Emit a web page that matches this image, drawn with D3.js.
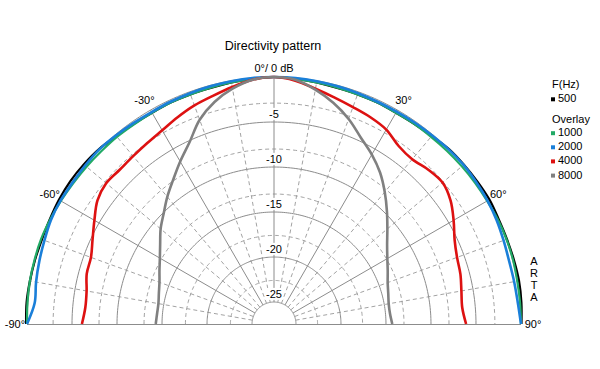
<!DOCTYPE html>
<html>
<head>
<meta charset="utf-8">
<script src="https://cdn.jsdelivr.net/npm/d3@7"></script>
<style>
  html, body { margin: 0; padding: 0; background: #fff; }
  svg { display: block; font-family: Arial, "Liberation Sans", sans-serif; }
</style>
</head>
<body>
<svg id="chart" width="600" height="369"></svg>
<script>
// ---------------- data ----------------
const angles = [-90,-85,-80,-75,-70,-65,-60,-55,-50,-45,-40,-35,-30,-25,-20,-15,-10,-5,0,
                5,10,15,20,25,30,35,40,45,50,55,60,65,70,75,80,85,90];

const f500  = [0.1,0.15,0.1,0.05,0.0,0.05,0.15,0.2,0.15,0.05,-0.2,-0.3,-0.35,-0.3,-0.3,-0.3,-0.2,-0.1,0,
               -0.1,-0.2,-0.3,-0.3,-0.3,-0.35,-0.3,-0.2,0.05,0.1,0.15,0.2,0.1,0.1,0.15,0.2,0.15,0.05];
const f1000 = [0.0,0.05,0.1,0.1,0.1,0.0,-0.1,-0.2,-0.25,-0.3,-0.3,-0.35,-0.35,-0.3,-0.3,-0.25,-0.2,-0.1,0,
               -0.1,-0.2,-0.25,-0.3,-0.3,-0.35,-0.3,-0.3,-0.25,-0.2,-0.15,-0.1,0.0,0.05,0.05,0.0,0.0,0.0];
const f2000 = [0.0,-0.75,-0.6,-0.45,-0.3,-0.1,-0.05,-0.1,-0.05,0.0,-0.1,-0.2,-0.25,-0.2,-0.15,-0.1,-0.05,0.0,0,
               0.0,-0.05,-0.1,-0.15,-0.2,-0.2,-0.15,-0.1,0.0,0.05,0.0,-0.05,-0.15,-0.3,-0.4,-0.35,-0.25,0.0];
const f4000 = [-6.1,-6.4,-6.3,-5.9,-5.8,-5.2,-4.4,-3.5,-3.1,-3.2,-3.1,-2.9,-2.6,-2.1,-1.6,-1.2,-0.7,-0.2,0,
               -0.3,-0.9,-1.4,-1.8,-2.1,-2.5,-3.3,-3.55,-3.2,-3.0,-3.5,-4.4,-5.3,-5.8,-6.0,-6.3,-6.45,-6.1];
const f8000 = [-14.3,-14.4,-14.4,-14.2,-13.9,-13.4,-12.8,-12.0,-11.0,-10.1,-9.0,-7.9,-6.6,-5.2,-3.3,-1.9,-0.9,-0.2,0,
               -0.2,-1.0,-2.0,-3.2,-4.6,-5.7,-6.9,-8.3,-9.7,-11.0,-12.1,-12.9,-13.5,-14.0,-14.3,-14.5,-14.5,-14.3];

const seriesNames  = ["500","1000","2000","4000","8000"];
const seriesValues = [f500, f1000, f2000, f4000, f8000];
const seriesColors = ["#000000","#22aa66","#1a7fd9","#dd1111","#808080"];

const ringMajor   = [0,-5,-10,-15,-20,-25];
const ringLabels  = ["-5","-10","-15","-20","-25"];
const ringMinor   = [-2.9,-8.0,-13.0,-17.6,-22.6];
const spokeMajor  = [-60,-30,0,30,60];
const spokeMinor  = [-80,-70,-50,-40,-20,-10,10,20,40,50,70,80];
const angleLabels = [[-90,"-90°"],[-60,"-60°"],[-30,"-30°"],[0,"0°/ 0 dB"],[30,"30°"],[60,"60°"],[90,"90°"]];

// ---------------- layout ----------------
const svg = d3.select("#chart");
const cx = 274, cy = 324;
const r = d3.scaleLinear().domain([-27.44, 0]).range([0, 247]);
const rad = d => d * Math.PI / 180;
const g = svg.append("g").attr("transform", `translate(${cx},${cy})`);

const arcPath = rr => {
  const pts = d3.range(-90, 90.01, 1).map(a => [rad(a), rr]);
  return d3.lineRadial()(pts);
};

// minor rings (dashed)
g.selectAll(".minring").data(ringMinor).join("path")
  .attr("d", d => arcPath(r(d)))
  .attr("fill", "none").attr("stroke", "#a3a3a3").attr("stroke-width", 1)
  .attr("stroke-dasharray", "4,3");
// minor spokes (dashed)
g.selectAll(".minspoke").data(spokeMinor).join("line")
  .attr("x1", d => r(-25) * Math.sin(rad(d))).attr("y1", d => -r(-25) * Math.cos(rad(d)))
  .attr("x2", d => r(0) * Math.sin(rad(d))).attr("y2", d => -r(0) * Math.cos(rad(d)))
  .attr("stroke", "#a3a3a3").attr("stroke-width", 1).attr("stroke-dasharray", "4,3");
// major rings
g.selectAll(".majring").data(ringMajor).join("path")
  .attr("d", d => arcPath(r(d)))
  .attr("fill", "none").attr("stroke", "#8c8c8c").attr("stroke-width", 1);
// major spokes
g.selectAll(".majspoke").data(spokeMajor).join("line")
  .attr("x1", d => r(-25) * Math.sin(rad(d))).attr("y1", d => -r(-25) * Math.cos(rad(d)))
  .attr("x2", d => r(0) * Math.sin(rad(d))).attr("y2", d => -r(0) * Math.cos(rad(d)))
  .attr("stroke", "#8c8c8c").attr("stroke-width", 1);
// baseline (-90 .. 90)
g.append("line").attr("x1", -r(0)).attr("x2", r(0)).attr("y1", 0.5).attr("y2", 0.5)
  .attr("stroke", "#8c8c8c").attr("stroke-width", 1);

// ring labels with white background
const rl = g.selectAll(".rl").data(ringLabels).join("g")
  .attr("transform", d => `translate(0,${-r(+d) - 8})`);
rl.each(function(d) {
  const s = d3.select(this);
  const t = s.append("text").text(d).attr("text-anchor", "middle").attr("dy", "0.35em")
    .attr("font-size", 11).attr("fill", "#000");
  const bb = t.node().getBBox();
  s.insert("rect", "text").attr("x", bb.x - 1).attr("y", bb.y).attr("width", bb.width + 2)
    .attr("height", bb.height).attr("fill", "#fff");
});

// curves
const line = d3.lineRadial().curve(d3.curveCatmullRom.alpha(0.5));
seriesValues.forEach((vals, i) => {
  const pts = angles.map((a, j) => [rad(a), r(vals[j])]);
  g.append("path").attr("d", line(pts)).attr("fill", "none")
    .attr("stroke", seriesColors[i]).attr("stroke-width", i >= 2 ? 2.6 : 2.2)
    .attr("stroke-linejoin", "round");
});

// angle labels
g.selectAll(".al").data(angleLabels).join("text")
  .attr("x", d => 259 * Math.sin(rad(d[0])))
  .attr("y", d => -(d[0] === 0 ? 256 : 259) * Math.cos(rad(d[0])))
  .attr("dy", "0.35em").attr("text-anchor", "middle").attr("font-size", 11)
  .text(d => d[1]);

// title
svg.append("text").attr("x", 273).attr("y", 49.5).attr("text-anchor", "middle")
  .attr("font-size", 12.5).text("Directivity pattern");

// legend
const lg = svg.append("g").attr("font-size", 11);
lg.append("text").attr("x", 552).attr("y", 87.5).text("F(Hz)");
lg.append("text").attr("x", 552).attr("y", 122.5).text("Overlay");
const legY = [102.3, 136.2, 150.3, 164.4, 178.6];
seriesNames.forEach((n, i) => {
  lg.append("rect").attr("x", 551).attr("y", legY[i] - 5).attr("width", 4).attr("height", 4)
    .attr("fill", seriesColors[i]);
  lg.append("text").attr("x", 558).attr("y", legY[i]).text(n);
});

// ARTA
const arta = ["A","R","T","A"];
svg.selectAll(".arta").data(arta).join("text")
  .attr("x", 534).attr("y", (d, i) => 265 + i * 12).attr("text-anchor", "middle")
  .attr("font-size", 11).text(d => d);
</script>
</body>
</html>
